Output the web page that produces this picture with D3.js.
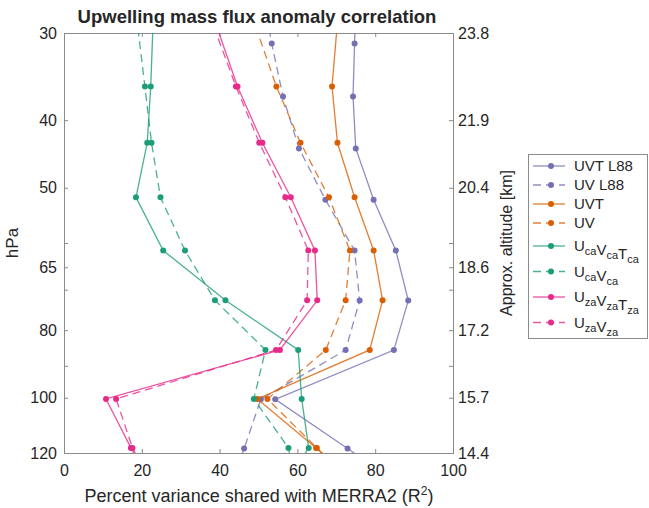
<!DOCTYPE html>
<html>
<head>
<meta charset="utf-8">
<script src="https://cdn.jsdelivr.net/npm/d3@7"></script>
<style>
  body { margin: 0; background: #fff; }
  text { font-family: "Liberation Sans", Arial, sans-serif; fill: #262626; }
</style>
</head>
<body>
<script>
// pressure levels (hPa) - L88 runs sit on model levels, others on their own grid
var levelsL88 = [26.05, 31.07, 36.99, 43.91, 52.02, 61.5, 72.56, 85.44, 100.51, 118.25, 137.79];
var levels = [26, 35.8, 43.1, 51.6, 61.5, 72.5, 85.4, 100.4, 118, 138];

// percent variance shared with MERRA2 (R^2)
var uvtL88 = [75.0, 74.7, 74.3, 75.0, 79.6, 85.3, 88.5, 84.8, 54.3, 72.9, 90];
var uvL88 = [51.0, 53.4, 56.3, 60.4, 67.2, 74.7, 76.0, 72.4, 50.6, 46.3, 42];
var uvt = [71.0, 68.9, 70.3, 74.7, 79.6, 81.9, 78.6, 49.7, 64.8, 79];
var uv = [46.0, 54.6, 60.8, 68.1, 73.5, 72.4, 67.3, 52.3, 65.0, 77];
var uvtCa = [23.2, 22.3, 21.4, 18.5, 25.5, 41.5, 60.2, 61.1, 62.9, 55];
var uvCa = [17.8, 20.8, 22.5, 24.8, 31.1, 38.8, 51.8, 48.8, 57.7, 60];
var uvtZa = [36.0, 44.6, 51.0, 58.3, 64.5, 65.1, 55.5, 10.8, 17.2, 24];
var uvZa = [35.0, 44.2, 50.2, 56.9, 62.8, 62.5, 54.5, 13.4, 17.6, 24];

var xTicks = [0, 20, 40, 60, 80, 100];
var yTicks = [30, 40, 50, 60, 65, 70, 80, 90, 100, 120];
var yTickLabels = ["30", "40", "50", "", "65", "", "80", "", "100", "120"];
var altLabels = ["23.8", "21.9", "20.4", "", "18.6", "", "17.2", "", "15.7", "14.4"];

var legendLabels = [
    [["UVT L88", ""]],
    [["UV L88", ""]],
    [["UVT", ""]],
    [["UV", ""]],
    [["U", "ca"], ["V", "ca"], ["T", "ca"]],
    [["U", "ca"], ["V", "ca"]],
    [["U", "za"], ["V", "za"], ["T", "za"]],
    [["U", "za"], ["V", "za"]]
];

var purple = "#7570b3", orange = "#d95f02", green = "#1b9e77", pink = "#e7298a";

var series = [
    { p: levelsL88, v: uvtL88, color: purple, dashed: false },
    { p: levelsL88, v: uvL88, color: purple, dashed: true },
    { p: levels, v: uvt, color: orange, dashed: false },
    { p: levels, v: uv, color: orange, dashed: true },
    { p: levels, v: uvtCa, color: green, dashed: false },
    { p: levels, v: uvCa, color: green, dashed: true },
    { p: levels, v: uvtZa, color: pink, dashed: false },
    { p: levels, v: uvZa, color: pink, dashed: true }
];

var width = 649, height = 508;
var plotL = 64, plotR = 453, plotT = 33, plotB = 453;
var axisColor = "#8a8a8a";

var svg = d3.select("body").append("svg")
    .attr("width", width)
    .attr("height", height);

var x = d3.scaleLinear().domain([0, 100]).range([plotL, plotR]);
var y = d3.scaleLog().domain([30, 120]).range([plotT, plotB]);

svg.append("defs").append("clipPath").attr("id", "plotclip")
    .append("rect")
    .attr("x", plotL).attr("y", plotT)
    .attr("width", plotR - plotL).attr("height", plotB - plotT);

// axes
function styleAxis(g) {
    g.select(".domain").remove();
    g.selectAll(".tick line").attr("stroke", axisColor);
    g.selectAll(".tick text")
        .style("font-size", "16px")
        .style("font-family", "'Liberation Sans', Arial, sans-serif")
        .attr("fill", "#262626");
}

svg.append("g")
    .attr("transform", "translate(0," + plotB + ")")
    .call(d3.axisBottom(x).tickValues(xTicks).tickSize(-4).tickPadding(12))
    .call(styleAxis);

svg.append("g")
    .attr("transform", "translate(0," + plotT + ")")
    .call(d3.axisTop(x).tickValues(xTicks).tickSize(-4).tickFormat(""))
    .call(styleAxis);

svg.append("g")
    .attr("transform", "translate(" + plotL + ",0)")
    .call(d3.axisLeft(y).tickValues(yTicks).tickSize(-4).tickPadding(7)
        .tickFormat(function (d, i) { return yTickLabels[i]; }))
    .call(styleAxis);

svg.append("g")
    .attr("transform", "translate(" + plotR + ",0)")
    .call(d3.axisRight(y).tickValues(yTicks).tickSize(-4).tickPadding(5)
        .tickFormat(function (d, i) { return altLabels[i]; }))
    .call(styleAxis);

svg.append("rect")
    .attr("x", plotL + 0.5).attr("y", plotT + 0.5)
    .attr("width", plotR - plotL).attr("height", plotB - plotT)
    .attr("fill", "none")
    .attr("stroke", axisColor);

// series
var line = d3.line()
    .x(function (d) { return x(d[1]); })
    .y(function (d) { return y(d[0]); });

var plot = svg.append("g").attr("clip-path", "url(#plotclip)");

series.forEach(function (s) {
    var pts = s.p.map(function (p, i) { return [p, s.v[i]]; });
    plot.append("path")
        .datum(pts)
        .attr("d", line)
        .attr("fill", "none")
        .attr("stroke", s.color)
        .attr("stroke-opacity", 0.8)
        .attr("stroke-width", 1.3)
        .attr("stroke-dasharray", s.dashed ? "8,5" : null);
    plot.selectAll(null)
        .data(pts.filter(function (d) { return d[0] >= 30 && d[0] <= 120; }))
        .enter().append("circle")
        .attr("cx", function (d) { return x(d[1]); })
        .attr("cy", function (d) { return y(d[0]); })
        .attr("r", 3)
        .attr("fill", s.color);
});

// titles
svg.append("text")
    .attr("x", 257).attr("y", 23)
    .attr("text-anchor", "middle")
    .style("font-size", "18.5px")
    .style("font-weight", "bold")
    .attr("fill", "#000")
    .text("Upwelling mass flux anomaly correlation");

var xl = svg.append("text")
    .attr("x", 259).attr("y", 502)
    .attr("text-anchor", "middle")
    .style("font-size", "18px");
xl.append("tspan").text("Percent variance shared with MERRA2 (R");
xl.append("tspan").attr("dy", -7).style("font-size", "12px").text("2");
xl.append("tspan").attr("dy", 7).text(")");

svg.append("text")
    .attr("transform", "translate(18,243) rotate(-90)")
    .attr("text-anchor", "middle")
    .style("font-size", "17px")
    .text("hPa");

svg.append("text")
    .attr("transform", "translate(512,243) rotate(-90)")
    .attr("text-anchor", "middle")
    .style("font-size", "16px")
    .text("Approx. altitude [km]");

// legend
var legendRows = [166, 185, 204, 223, 246, 271.5, 297, 322.5];

svg.append("rect")
    .attr("x", 528.5).attr("y", 154.5)
    .attr("width", 119).attr("height", 184)
    .attr("fill", "#fff")
    .attr("stroke", axisColor);

series.forEach(function (s, i) {
    var ry = legendRows[i];
    svg.append("line")
        .attr("x1", 533).attr("x2", 565)
        .attr("y1", ry).attr("y2", ry)
        .attr("stroke", s.color)
        .attr("stroke-opacity", 0.8)
        .attr("stroke-width", 1.3)
        .attr("stroke-dasharray", s.dashed ? "8,5" : null);
    svg.append("circle")
        .attr("cx", 551).attr("cy", ry).attr("r", 3)
        .attr("fill", s.color);
    var t = svg.append("text")
        .attr("x", 574).attr("y", ry + 5)
        .style("font-size", "15px");
    legendLabels[i].forEach(function (part) {
        t.append("tspan").text(part[0]);
        if (part[1]) {
            t.append("tspan").attr("dy", 4).style("font-size", "11px").text(part[1]);
            t.append("tspan").attr("dy", -4).text("");
        }
    });
});
</script>
</body>
</html>
